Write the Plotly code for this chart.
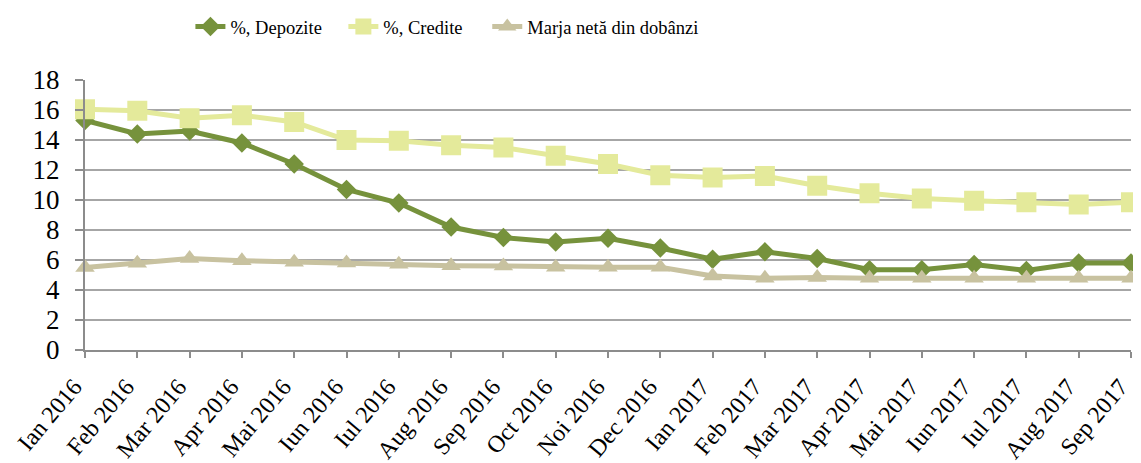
import plotly.graph_objects as go

months = ["Ian 2016", "Feb 2016", "Mar 2016", "Apr 2016", "Mai 2016", "Iun 2016", "Iul 2016",
          "Aug 2016", "Sep 2016", "Oct 2016", "Noi 2016", "Dec 2016", "Ian 2017", "Feb 2017",
          "Mar 2017", "Apr 2017", "Mai 2017", "Iun 2017", "Iul 2017", "Aug 2017", "Sep 2017"]

depozite = [15.3, 14.4, 14.6, 13.8, 12.4, 10.7, 9.8, 8.2, 7.5, 7.2, 7.45, 6.8, 6.05, 6.55,
            6.1, 5.35, 5.35, 5.7, 5.3, 5.8, 5.8]
credite = [16.05, 15.95, 15.45, 15.65, 15.2, 14.0, 13.95, 13.65, 13.5, 12.95, 12.4, 11.65,
           11.5, 11.6, 10.95, 10.45, 10.1, 9.95, 9.85, 9.7, 9.85]
marja = [5.5, 5.78, 6.1, 5.95, 5.85, 5.8, 5.72, 5.62, 5.6, 5.52, 5.52, 5.52, 4.93, 4.78,
         4.83, 4.78, 4.78, 4.78, 4.78, 4.78, 4.78]

names = ["%, Depozite", "%, Credite", "Marja netă din dobânzi"]
colors = ["#76923C", "#E4EA9B", "#C8C2A0"]
symbols = ["diamond", "square", "triangle-up"]
sizes = [15, 20, 17]
legend_ids = ["legend", "legend2", "legend3"]
legend_x = [0.161, 0.296, 0.423]

# page is offset by 8px (body margin), so the figure is 8px smaller on each side
W, H = 1133, 455

fig = go.Figure()
for name, vals, col, sym, sz, lid in zip(names, [depozite, credite, marja], colors,
                                        symbols, sizes, legend_ids):
    fig.add_trace(go.Scatter(
        x=list(range(len(months))), y=vals, name=name, mode="lines+markers",
        line=dict(color=col, width=5),
        marker=dict(symbol=sym, size=sz, color=col, line=dict(width=0)),
        cliponaxis=False, legend=lid,
    ))

legend_common = dict(orientation="h", xanchor="left", xref="container", yref="container",
                     y=1.0, yanchor="top", font=dict(size=18.5), bgcolor="rgba(0,0,0,0)")
layout_legends = {}
for lid, lx in zip(legend_ids, legend_x):
    layout_legends[lid] = dict(legend_common, x=lx)

fig.update_layout(
    width=W, height=H,
    margin=dict(l=77, r=10, t=72, b=113),
    paper_bgcolor="white", plot_bgcolor="white",
    font=dict(family="Liberation Serif", size=22, color="black"),
    showlegend=True,
    **layout_legends,
    xaxis=dict(
        range=[0, 20], tickmode="array", tickvals=list(range(len(months))), ticktext=months,
        tickangle=-50, showgrid=False, showline=True, linecolor="#8C8C8C", linewidth=2,
        ticks="outside", ticklen=6, tickcolor="#8C8C8C", tickwidth=1.5, zeroline=False,
        tickfont=dict(size=24), ticklabeloverflow="allow", ticklabelstandoff=5,
        ticklabelshift=-11, automargin=False,
    ),
    yaxis=dict(
        range=[0, 18], dtick=2, showgrid=True, gridcolor="#A6A6A6", gridwidth=1.5,
        showline=True, linecolor="#8C8C8C", linewidth=2, ticks="outside", ticklen=8,
        tickcolor="#8C8C8C", tickwidth=1.5, zeroline=False, tickfont=dict(size=27),
        ticklabelstandoff=10, automargin=False,
    ),
)
fig.write_html("out.html")
